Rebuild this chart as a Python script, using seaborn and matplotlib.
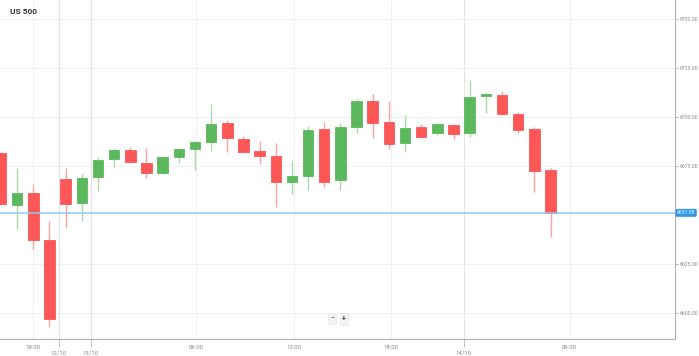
import numpy as np
import pandas as pd
import seaborn as sns
import matplotlib.pyplot as plt

# hourly candles, US 500
opens = [6681.8, 6654.9, 6661.1, 6637.2, 6668.4, 6656.1, 6669.4, 6678.4, 6683.2, 6676.5,
         6671.6, 6679.4, 6683.5, 6687.4, 6696.9, 6688.9, 6682.5, 6680.1, 6666.7, 6669.9,
         6693.7, 6667.7, 6695.1, 6708.0, 6697.6, 6686.6, 6695.1, 6692.0, 6695.9, 6691.7,
         6710.7, 6711.1, 6701.5, 6693.7, 6673.0]
closes = [6655.6, 6661.4, 6637.2, 6597.0, 6655.6, 6668.7, 6678.1, 6683.3, 6676.9, 6671.4,
          6679.7, 6683.7, 6687.4, 6696.6, 6689.1, 6682.0, 6680.3, 6666.8, 6669.9, 6693.4,
          6666.7, 6694.9, 6708.0, 6697.1, 6686.4, 6694.5, 6690.0, 6696.3, 6691.3, 6710.4,
          6711.6, 6701.4, 6693.4, 6672.6, 6651.1]
highs = [6682.0, 6674.0, 6665.8, 6647.1, 6674.0, 6670.9, 6679.4, 6684.2, 6684.8, 6684.3,
         6680.2, 6684.0, 6687.6, 6706.5, 6698.3, 6690.5, 6687.9, 6686.6, 6677.6, 6695.3,
         6697.3, 6696.9, 6709.0, 6711.6, 6708.2, 6701.0, 6696.4, 6697.1, 6696.3, 6718.9,
         6712.1, 6713.4, 6702.4, 6694.7, 6673.8]
lows = [6655.0, 6642.7, 6632.8, 6593.0, 6643.2, 6647.1, 6662.4, 6674.6, 6676.5, 6669.0,
        6670.8, 6676.4, 6673.0, 6682.7, 6682.0, 6681.5, 6676.0, 6654.2, 6660.9, 6662.8,
        6664.4, 6662.6, 6691.7, 6689.1, 6683.7, 6682.3, 6689.4, 6690.7, 6688.6, 6690.0,
        6702.2, 6700.9, 6691.7, 6661.7, 6638.9]

last_price = 6651.08
title = "US 500"

hour_labels = ["18:00", "06:00", "12:00", "18:00", "06:00"]
hour_pos = [2.0, 12.08, 18.1, 24.11, 35.18]
date_labels = ["12/10", "13/10", "14/10"]
date_pos = [3.56, 5.56, 28.63]
price_ticks = [6600, 6625, 6675, 6700, 6725, 6750]

df = pd.DataFrame({"open": opens, "high": highs, "low": lows, "close": closes})
df["idx"] = np.arange(len(df))
df["up"] = df["close"] >= df["open"]

sns.set_theme(style="white")
plt.rcParams["font.family"] = ["Roboto", "DejaVu Sans"]

fig = plt.figure(figsize=(6.99, 3.56), dpi=100)
ax = fig.add_axes([0, 17 / 356, 675 / 699, 339 / 356])

red, green = "#fb5757", "#5cb85c"
red_w, green_w = "#f9a3a3", "#a9d9a9"

for up, body_c, wick_c in [(True, green, green_w), (False, red, red_w)]:
    d = df[df["up"] == up]
    ax.vlines(d["idx"], d["low"], d["high"], color=wick_c, lw=1, zorder=2)
    bottom = d[["open", "close"]].min(axis=1)
    height = (d["close"] - d["open"]).abs().clip(lower=0.6)
    ax.bar(d["idx"], height, bottom=bottom, width=0.65, color=body_c,
           edgecolor=body_c, linewidth=0.6, zorder=3)

# current price line and tag
ax.axhline(last_price, color="#90c8f0", lw=1.1, zorder=4)
ax.text(1.003, last_price, f"{last_price:.2f}", transform=ax.get_yaxis_transform(),
        ha="left", va="center", fontsize=3.6, color="white", clip_on=False,
        bbox=dict(boxstyle="round,pad=0.3,rounding_size=0.3", fc="#2f96ee", ec="none"))

ax.set_xlim(-0.06, 41.7)
ax.set_ylim(6586.7, 6759.7)

# grid
for p in price_ticks:
    ax.axhline(p, color="#f1f1f1", lw=0.7, zorder=0)
for p in hour_pos:
    ax.axvline(p, color="#efefef", lw=0.7, zorder=0)
for p in date_pos:
    ax.axvline(p, color="#e4e4e4", lw=0.8, zorder=0)

ax.yaxis.tick_right()
ax.set_yticks(price_ticks)
ax.set_yticklabels([f"{p:.2f}" for p in price_ticks])
ax.tick_params(axis="y", which="major", length=2, width=0.5, color="#999999",
               labelsize=3.7, labelcolor="#888888", pad=1.5)

ax.set_xticks(hour_pos)
ax.set_xticklabels(hour_labels)
ax.set_xticks(date_pos, minor=True)
ax.set_xticklabels(date_labels, minor=True)
ax.tick_params(axis="x", which="major", length=3, width=0.5, color="#aaaaaa",
               labelsize=4.3, labelcolor="#888888", pad=1.5)
ax.tick_params(axis="x", which="minor", length=6, width=0.5, color="#aaaaaa",
               labelsize=4.3, labelcolor="#888888", pad=2.0, bottom=True)
for t in ax.xaxis.get_minorticklines():
    t.set_linestyle((0, (1, 1)))

for s in ["top", "left"]:
    ax.spines[s].set_visible(False)
for s in ["right", "bottom"]:
    ax.spines[s].set_color("#b0b0b0")
    ax.spines[s].set_linewidth(0.8)

ax.set_xlabel("")
ax.set_ylabel("")

fig.text(10 / 699, 1 - 11 / 356, title, fontsize=6, fontweight="bold",
         color="#333333", ha="left", va="center")

# zoom buttons
fig.text(332 / 699, 1 - 319 / 356, "\u2212", fontsize=5, color="#444444", ha="center", va="center",
         bbox=dict(boxstyle="square,pad=0.25", fc="#f4f4f4", ec="#e6e6e6", lw=0.5))
fig.text(344 / 699, 1 - 319 / 356, "+", fontsize=5, color="#444444", ha="center", va="center",
         fontweight="bold",
         bbox=dict(boxstyle="square,pad=0.25", fc="#f4f4f4", ec="#e6e6e6", lw=0.5))

fig.savefig("out.png", dpi=100)
